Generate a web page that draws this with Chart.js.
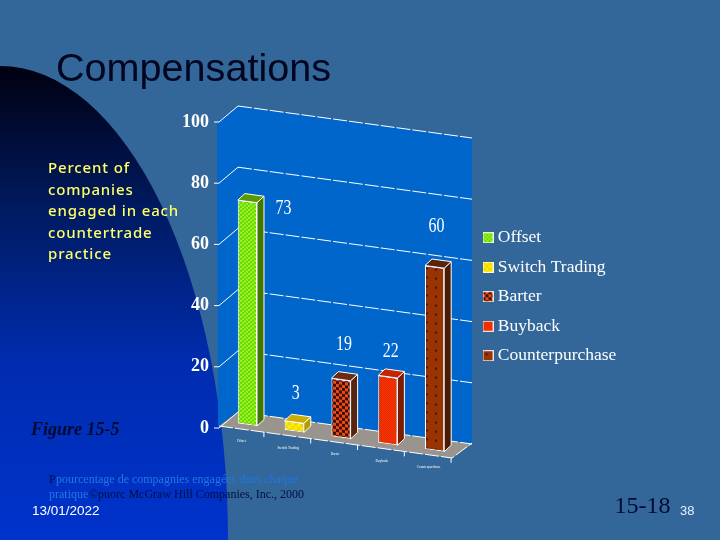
<!DOCTYPE html>
<html>
<head>
<meta charset="utf-8">
<style>html,body{margin:0;padding:0;background:#336699}canvas{display:block}</style>
<script src="https://cdn.jsdelivr.net/npm/chart.js@4"></script>
</head>
<body>
<canvas id="c" width="720" height="540"></canvas>
<script>
const categories = ["Offset", "Switch Trading", "Barter", "Buyback", "Counterpurchase"];
const percentValues = [73, 3, 19, 22, 60];
const yMin = 0, yMax = 100, yStep = 20;
const captionLines = ["Percent of", "companies", "engaged in each", "countertrade", "practice"];

function pattern(size, paint) {
  const c = document.createElement('canvas');
  c.width = c.height = size;
  paint(c.getContext('2d'));
  return c.getContext('2d').createPattern(c, 'repeat');
}
function checker(cell, a, b) {
  return pattern(cell * 2, g => {
    g.fillStyle = a; g.fillRect(0, 0, cell * 2, cell * 2);
    g.fillStyle = b; g.fillRect(0, 0, cell, cell); g.fillRect(cell, cell, cell, cell);
  });
}
const fills = [
  checker(2, '#5fdc00', '#a6ee2a'),
  checker(3, '#ffee00', '#f0d800'),
  checker(3, '#f04a10', '#3a1008'),
  checker(1, '#ff3a00', '#dd2600'),
  pattern(9, g => { g.fillStyle = '#993300'; g.fillRect(0, 0, 9, 9); g.fillStyle = '#3a1430'; g.fillRect(3, 3, 2, 2); })
];
const sideFaces = ['#3f7800', '#b39c00', '#57240f', '#7c1c00', '#4a1c04'];
const topFaces  = ['#5a9a00', '#c9ad00', '#6e2a12', '#c42400', '#5a2408'];

function legendSwatch(fill) {
  const c = document.createElement('canvas');
  c.width = c.height = 11;
  const g = c.getContext('2d');
  g.fillStyle = fill; g.fillRect(0, 0, 11, 11);
  g.strokeStyle = 'rgba(255,255,255,0.85)'; g.lineWidth = 1; g.strokeRect(0.5, 0.5, 10, 10);
  return c;
}
const swatches = fills.map(legendSwatch);

const SHEAR = 0.137, ANCHOR_X = 238, LIFT = 4.5;
const DEPTH_X = 21, DEPTH_Y = 16, BAR_DX = 7, BAR_DY = 6.5;
const sy = (x, y) => y + SHEAR * (x - ANCHOR_X) - LIFT;

function text(ctx, s, x, y, font, color, sx) {
  ctx.save();
  ctx.font = font; ctx.fillStyle = color; ctx.textBaseline = 'alphabetic'; ctx.textAlign = 'left';
  ctx.translate(x, y); ctx.scale(sx || 1, 1);
  ctx.fillText(s, 0, 0);
  ctx.restore();
}

const slide = {
  id: 'slide',
  afterLayout(chart) {
    const l = chart.legend;
    const w = l.width, h = l.height;
    l.left = 475; l.top = 217; l.right = l.left + w; l.bottom = l.top + h;
  },
  beforeDraw(chart) {
    const ctx = chart.ctx, ys = chart.scales.y;
    ctx.save();
    ctx.fillStyle = '#336699'; ctx.fillRect(0, 0, 720, 540);
    const g = ctx.createLinearGradient(0, 66, 0, 540);
    g.addColorStop(0, '#000010'); g.addColorStop(0.3, '#001a60');
    g.addColorStop(0.62, '#002cae'); g.addColorStop(1, '#0033cc');
    ctx.fillStyle = g;
    ctx.beginPath(); ctx.ellipse(0, 540, 228, 474, 0, -Math.PI / 2, 0); ctx.lineTo(0, 540); ctx.closePath(); ctx.fill();

    const y0 = ys.getPixelForValue(0), y100 = ys.getPixelForValue(100);
    ctx.fillStyle = '#0066cc';
    ctx.beginPath();
    ctx.moveTo(217, y100); ctx.lineTo(238, y100 - DEPTH_Y); ctx.lineTo(472, y100 - DEPTH_Y + 32);
    ctx.lineTo(472, y0 - DEPTH_Y + 32); ctx.lineTo(238, y0 - DEPTH_Y); ctx.lineTo(218, y0 - 2);
    ctx.closePath(); ctx.fill();

    ctx.fillStyle = '#9a948e';
    ctx.beginPath();
    ctx.moveTo(219, y0 - 2); ctx.lineTo(238, y0 - DEPTH_Y); ctx.lineTo(472, y0 - DEPTH_Y + 32);
    ctx.lineTo(452, y0 + 30); ctx.closePath(); ctx.fill();

    text(ctx, 'Compensations', 56, 81, '39.6px "Liberation Sans"', '#000520');
    ctx.restore();
  },
  beforeDatasetsDraw(chart) {
    const ctx = chart.ctx, ys = chart.scales.y, xs = chart.scales.x;
    ctx.save();
    ctx.strokeStyle = '#ffffff'; ctx.lineWidth = 1;
    for (let v = yMin; v <= yMax; v += yStep) {
      const y = ys.getPixelForValue(v);
      ctx.setLineDash([]);
      ctx.beginPath(); ctx.moveTo(214, y); ctx.lineTo(219, y);
      ctx.lineTo(238, y - DEPTH_Y);
      ctx.stroke();
      ctx.setLineDash([14, 2]);
      ctx.beginPath(); ctx.moveTo(238, y - DEPTH_Y); ctx.lineTo(472, y - DEPTH_Y + 32); ctx.stroke();
    }
    // floor front and right edges, with category ticks below
    const y0 = ys.getPixelForValue(0);
    ctx.setLineDash([14, 2]);
    ctx.beginPath(); ctx.moveTo(219, y0 - 2); ctx.lineTo(452, y0 + 30); ctx.lineTo(472, y0 + 15); ctx.stroke();
    ctx.setLineDash([]);
    categories.forEach((c, i) => {
      const tx = xs.getPixelForValue(i) + 16.5;
      const ty = y0 - 2 + SHEAR * (tx - 219);
      ctx.beginPath(); ctx.moveTo(tx, ty); ctx.lineTo(tx, ty + 5); ctx.stroke();
      const lx = xs.getPixelForValue(i) - 6;
      ctx.font = '3.5px "Liberation Serif"'; ctx.fillStyle = '#ffffff'; ctx.textAlign = 'center';
      ctx.fillText(c, lx, 437 + SHEAR * (lx - 224) + 3);
    });
    ctx.restore();
    // the bars themselves are drawn by Chart.js inside the floor's shear
    ctx.save();
    ctx.transform(1, SHEAR, 0, 1, 0, -LIFT - SHEAR * ANCHOR_X);
  },
  afterDatasetsDraw(chart) {
    const ctx = chart.ctx;
    ctx.restore();
    ctx.save();
    const meta = chart.getDatasetMeta(0);
    meta.data.forEach((bar, i) => {
      const w = bar.width, l = bar.x - w / 2, r = bar.x + w / 2, t = bar.y, b = bar.base;
      const P = (x, y) => [x, sy(x, y)];
      const face = (pts, color) => {
        ctx.beginPath();
        pts.forEach((p, k) => k ? ctx.lineTo(p[0], p[1]) : ctx.moveTo(p[0], p[1]));
        ctx.closePath();
        ctx.fillStyle = color; ctx.fill();
        ctx.strokeStyle = '#ffffff'; ctx.lineWidth = 1; ctx.stroke();
      };
      const br = P(r, b), tr = P(r, t), tl = P(l, t);
      face([br, tr, [tr[0] + BAR_DX, tr[1] - BAR_DY], [br[0] + BAR_DX, br[1] - BAR_DY]], sideFaces[i]);
      face([tl, tr, [tr[0] + BAR_DX, tr[1] - BAR_DY], [tl[0] + BAR_DX, tl[1] - BAR_DY]], topFaces[i]);
    });
    // value labels sit around the bars, not on a fixed offset
    const nudges = [[36, 13], [1.5, -23], [3, -29], [3, -20], [2, -35]];
    meta.data.forEach((bar, i) => {
      const [dx, dy] = nudges[i];
      const cx = bar.x + dx, cy = sy(bar.x, bar.y) + dy;
      const s = String(percentValues[i]);
      ctx.font = '21px "Liberation Serif"';
      const tw = ctx.measureText(s).width * 0.76;
      text(ctx, s, cx - tw / 2, cy, '21px "Liberation Serif"', '#ffffff', 0.76);
    });
    // slide text
    const yellow = '#ffff66';
    captionLines.forEach((line, i) => {
      ctx.save();
      ctx.letterSpacing = '0.85px';
      text(ctx, line, 48, 173 + i * 21.5, '500 15px "Noto Sans"', yellow);
      ctx.restore();
    });
    text(ctx, 'Figure 15-5', 31, 435, 'italic bold 18px "Liberation Serif"', '#000a33');
    const fFont = '12px "Liberation Serif"';
    const blue = '#2277e0', dark = '#001040';
    text(ctx, 'P', 49, 483, fFont, dark);
    text(ctx, 'pourcentage de compagnies engagées dans chaque', 56, 483, fFont, blue);
    text(ctx, 'pratique', 49, 498, fFont, blue);
    text(ctx, '©puorc McGraw Hill Companies, Inc., 2000', 89, 498, fFont, dark);
    text(ctx, '13/01/2022', 32, 515, '13.5px "Liberation Sans"', '#ffffff');
    text(ctx, '15-18', 614.5, 513, '24px "Liberation Serif"', '#000a33');
    text(ctx, '38', 680, 515, '13px "Liberation Sans"', '#e8f0ff');
    ctx.restore();
  }
};

new Chart(document.getElementById('c'), {
  type: 'bar',
  data: {
    labels: categories,
    datasets: [{
      label: 'Percent of companies',
      data: percentValues,
      backgroundColor: fills,
      borderColor: '#ffffff',
      borderWidth: 1,
      borderSkipped: false,
      barPercentage: 0.41,
      categoryPercentage: 1,
      clip: false
    }]
  },
  plugins: [slide],
  options: {
    responsive: false,
    animation: false,
    devicePixelRatio: 1,
    layout: { padding: { left: 100, top: 122, right: 262, bottom: 112 } },
    scales: {
      x: { display: false },
      y: {
        min: yMin, max: yMax,
        afterFit(s) { s.width = 124; },
        grid: { display: false },
        border: { display: false },
        ticks: {
          stepSize: yStep,
          padding: 7,
          color: '#ffffff',
          font: { family: '"Liberation Serif"', size: 18, weight: 'bold' }
        }
      }
    },
    plugins: {
      tooltip: { enabled: false },
      title: { display: false },
      legend: {
        display: true,
        position: 'chartArea',
        align: 'start',
        labels: {
          color: '#ffffff',
          font: { family: '"Liberation Serif"', size: 17.5 },
          padding: 12,
          usePointStyle: true,
          pointStyleWidth: 2,
          boxHeight: 10,
          generateLabels() {
            return categories.map((c, i) => ({
              text: c, fillStyle: fills[i], strokeStyle: '#ffffff', lineWidth: 1,
              pointStyle: swatches[i], hidden: false, index: i, fontColor: '#ffffff'
            }));
          }
        }
      }
    }
  }
});
</script>
</body>
</html>
